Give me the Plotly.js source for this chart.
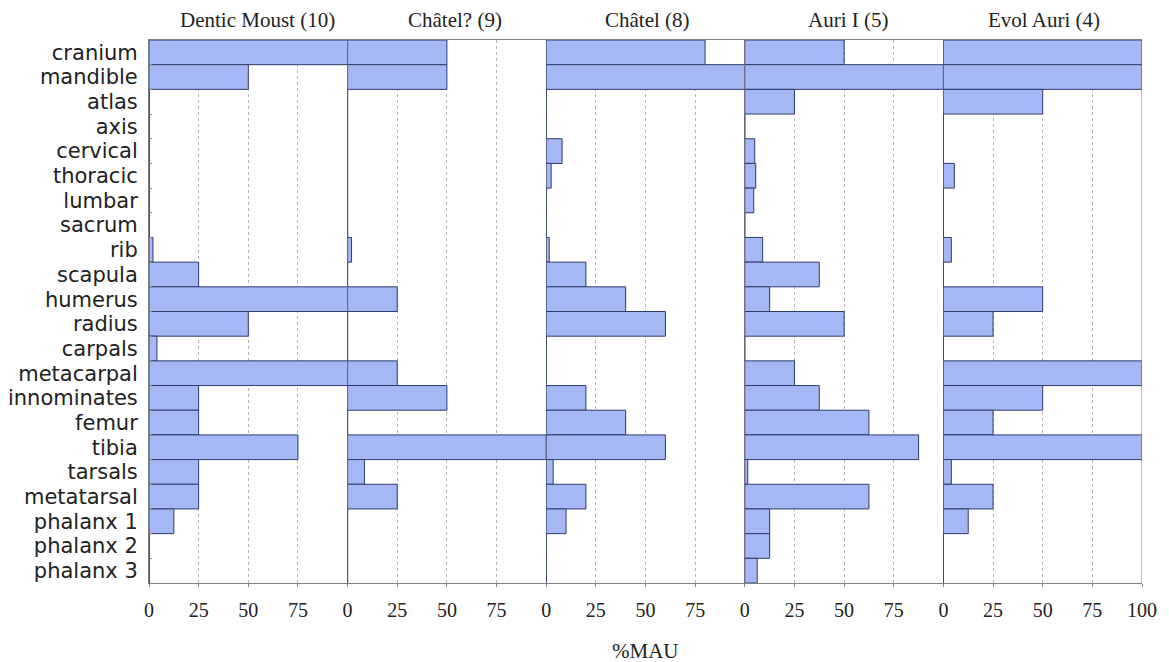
<!DOCTYPE html>
<html>
<head>
<meta charset="utf-8">
<script src="https://cdn.plot.ly/plotly-3.0.1.min.js"></script>
<style>
  html, body { margin: 0; padding: 0; background: #fff; }
  #chart { width: 1169px; height: 662px; }
</style>
</head>
<body>
<div id="chart"></div>
<script>
const categories = ["cranium", "mandible", "atlas", "axis", "cervical", "thoracic", "lumbar", "sacrum", "rib", "scapula", "humerus", "radius", "carpals", "metacarpal", "innominates", "femur", "tibia", "tarsals", "metatarsal", "phalanx 1", "phalanx 2", "phalanx 3"];

const panelTitles = ["Dentic Moust (10)", "Châtel? (9)", "Châtel (8)", "Auri I (5)", "Evol Auri (4)"];

const denticMoust = [100, 50, 0, 0, 0, 0, 0, 0, 2, 25, 100, 50, 4, 100, 25, 25, 75, 25, 25, 12.5, 0, 0];
const chatelQ     = [50, 50, 0, 0, 0, 0, 0, 0, 2, 0, 25, 0, 0, 25, 50, 0, 100, 8.5, 25, 0, 0, 0];
const chatel      = [80, 100, 0, 0, 8, 2.5, 0, 0, 1.5, 20, 40, 60, 0, 0, 20, 40, 60, 3.5, 20, 10, 0, 0];
const auriI       = [50, 100, 25, 0, 5, 5.5, 4.5, 0, 9, 37.5, 12.5, 50, 0, 25, 37.5, 62.5, 87.5, 1.5, 62.5, 12.5, 12.5, 6.25];
const evolAuri    = [100, 100, 50, 0, 0, 5.5, 0, 0, 4, 0, 50, 25, 0, 100, 50, 25, 100, 4, 25, 12.5, 0, 0];

const tickValsInner = [0, 25, 50, 75];
const tickValsLast  = [0, 25, 50, 75, 100];
const xAxisTitle = "%MAU";

const series = [denticMoust, chatelQ, chatel, auriI, evolAuri];

const fillColor = "#a5b8f5";
const edgeColor = "#2e3c6c";
const axisColor = "#808080";
const textColor = "#222222";
const titleShifts = [9, 8, 2, 4, 1];

const traces = series.map((vals, i) => ({
  type: "bar",
  orientation: "h",
  y: categories,
  x: vals,
  xaxis: i === 0 ? "x" : "x" + (i + 1),
  yaxis: "y",
  width: 1,
  marker: { color: fillColor, line: { color: edgeColor, width: 1 } },
  hoverinfo: "x+y",
  showlegend: false
}));

const layout = {
  width: 1169,
  height: 662,
  margin: { l: 149, r: 27, t: 40, b: 79 },
  paper_bgcolor: "#ffffff",
  plot_bgcolor: "#ffffff",
  bargap: 0,
  showlegend: false,
  yaxis: {
    type: "category",
    autorange: "reversed",
    tickmode: "array",
    tickvals: categories,
    ticktext: categories,
    showgrid: false,
    zeroline: false,
    showline: true,
    linecolor: axisColor,
    linewidth: 1,
    ticks: "inside",
    tickson: "boundaries",
    ticklen: 3,
    tickcolor: axisColor,
    ticklabelstandoff: 6,
    tickfont: { family: "DejaVu Sans", size: 21, color: textColor },
    fixedrange: true
  },
  annotations: [],
  shapes: []
};

const n = series.length;
for (let i = 0; i < n; i++) {
  const key = i === 0 ? "xaxis" : "xaxis" + (i + 1);
  const last = i === n - 1;
  layout[key] = {
    domain: [i / n, (i + 1) / n],
    anchor: "y",
    range: [0, 100],
    tickmode: "array",
    tickvals: last ? tickValsLast : tickValsInner,
    ticktext: (last ? tickValsLast : tickValsInner).map(String),
    showgrid: true,
    gridcolor: "#b4b4b4",
    griddash: "dot",
    gridwidth: 1,
    zeroline: true,
    zerolinecolor: axisColor,
    zerolinewidth: 1,
    showline: true,
    mirror: true,
    linecolor: axisColor,
    linewidth: 1,
    ticks: "outside",
    ticklen: 3,
    tickcolor: axisColor,
    ticklabelstandoff: 6,
    tickfont: { family: "Liberation Serif", size: 20, color: textColor },
    fixedrange: true
  };
  layout.annotations.push({
    text: panelTitles[i],
    xref: "paper",
    yref: "paper",
    x: (i + 0.5) / n,
    y: 1,
    xanchor: "center",
    yanchor: "bottom",
    xshift: titleShifts[i],
    yshift: 6,
    showarrow: false,
    font: { family: "Liberation Serif", size: 21, color: textColor }
  });
}

layout.annotations.push({
  text: xAxisTitle,
  xref: "paper",
  yref: "paper",
  x: 0.5,
  y: 0,
  xanchor: "center",
  yanchor: "top",
  yshift: -54,
  showarrow: false,
  font: { family: "Liberation Serif", size: 21, color: textColor }
});

layout.shapes.push({
  type: "line",
  xref: "x" + n,
  yref: "paper",
  x0: 100, x1: 100, y0: 0, y1: 1,
  line: { color: axisColor, width: 1 }
});

Plotly.newPlot("chart", traces, layout, { displayModeBar: false, staticPlot: true });
</script>
</body>
</html>
